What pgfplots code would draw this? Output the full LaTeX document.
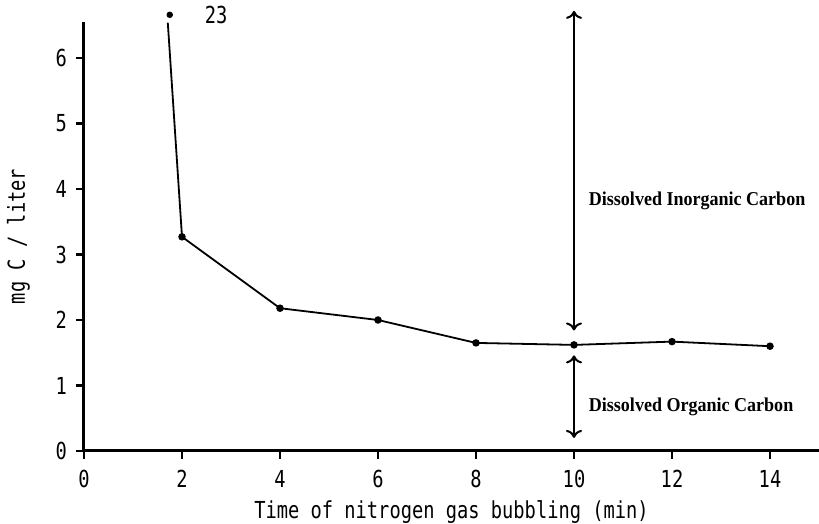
\documentclass[border=0pt]{standalone}
\usepackage{pgfplots}
\pgfplotsset{compat=1.18}
\usetikzlibrary{arrows.meta}
\usepackage{fontspec}
\setmainfont{DejaVu Sans Mono}[FakeStretch=0.8]
\newfontfamily\annfont{Liberation Serif}[FakeStretch=0.92]
\begin{document}
\begin{tikzpicture}
\useasboundingbox (-42pt,-36.5pt) rectangle (367.5pt,225.5pt);
\begin{axis}[
  anchor=south west, at={(0,0)},
  scale only axis, width=367.5pt, height=214.5pt,
  xmin=0, xmax=15, ymin=0, ymax=6.55,
  axis lines=left,
  every outer x axis line/.style={line width=1.5pt, black},
  every outer y axis line/.style={line width=1.5pt, black},
  xtick={0,2,...,14}, ytick={0,1,...,6},
  xtick pos=left, ytick pos=left,
  tick align=outside, major tick length=4pt,
  every tick/.style={line width=1.1pt, black},
  /pgf/number format/assume math mode=true,
  ticklabel style={font=\fontsize{11.7}{14}\selectfont},
  label style={font=\fontsize{11.7}{14}\selectfont},
  xticklabel style={yshift=-2pt},
  yticklabel style={xshift=-1pt},
  xlabel={Time of nitrogen gas bubbling (min)},
  ylabel={mg C / liter},
  xlabel style={at={(axis description cs:0.5,0)}, anchor=center, yshift=-30.5pt},
  ylabel style={yshift=6pt},
  clip=false,
]
\addplot[black, line width=0.9pt, mark=*, mark size=1.4pt, mark indices={2,3,4,5,6,7,8}]
  coordinates {(1.71,6.54)(2,3.27)(4,2.18)(6,2.0)(8,1.65)(10,1.62)(12,1.67)(14,1.6)};
\addplot[black, only marks, mark=*, mark size=1.4pt] coordinates {(1.75,6.66)}
  node[right, xshift=14pt, font=\fontsize{11.7}{14}\selectfont] {23};
\draw[line width=1pt, {To[length=4pt,width=8pt]}-{To[length=4pt,width=8pt]}] (axis cs:10,6.72) -- (axis cs:10,1.84);
\draw[line width=1pt, {To[length=4pt,width=8pt]}-{To[length=4pt,width=8pt]}] (axis cs:10,1.46) -- (axis cs:10,0.2);
\node[anchor=west, font=\annfont\bfseries\fontsize{9.8}{11}\selectfont] at (axis cs:10.16,3.82) {Dissolved Inorganic Carbon};
\node[anchor=west, font=\annfont\bfseries\fontsize{9.8}{11}\selectfont] at (axis cs:10.16,0.67) {Dissolved Organic Carbon};
\end{axis}
\end{tikzpicture}
\end{document}
